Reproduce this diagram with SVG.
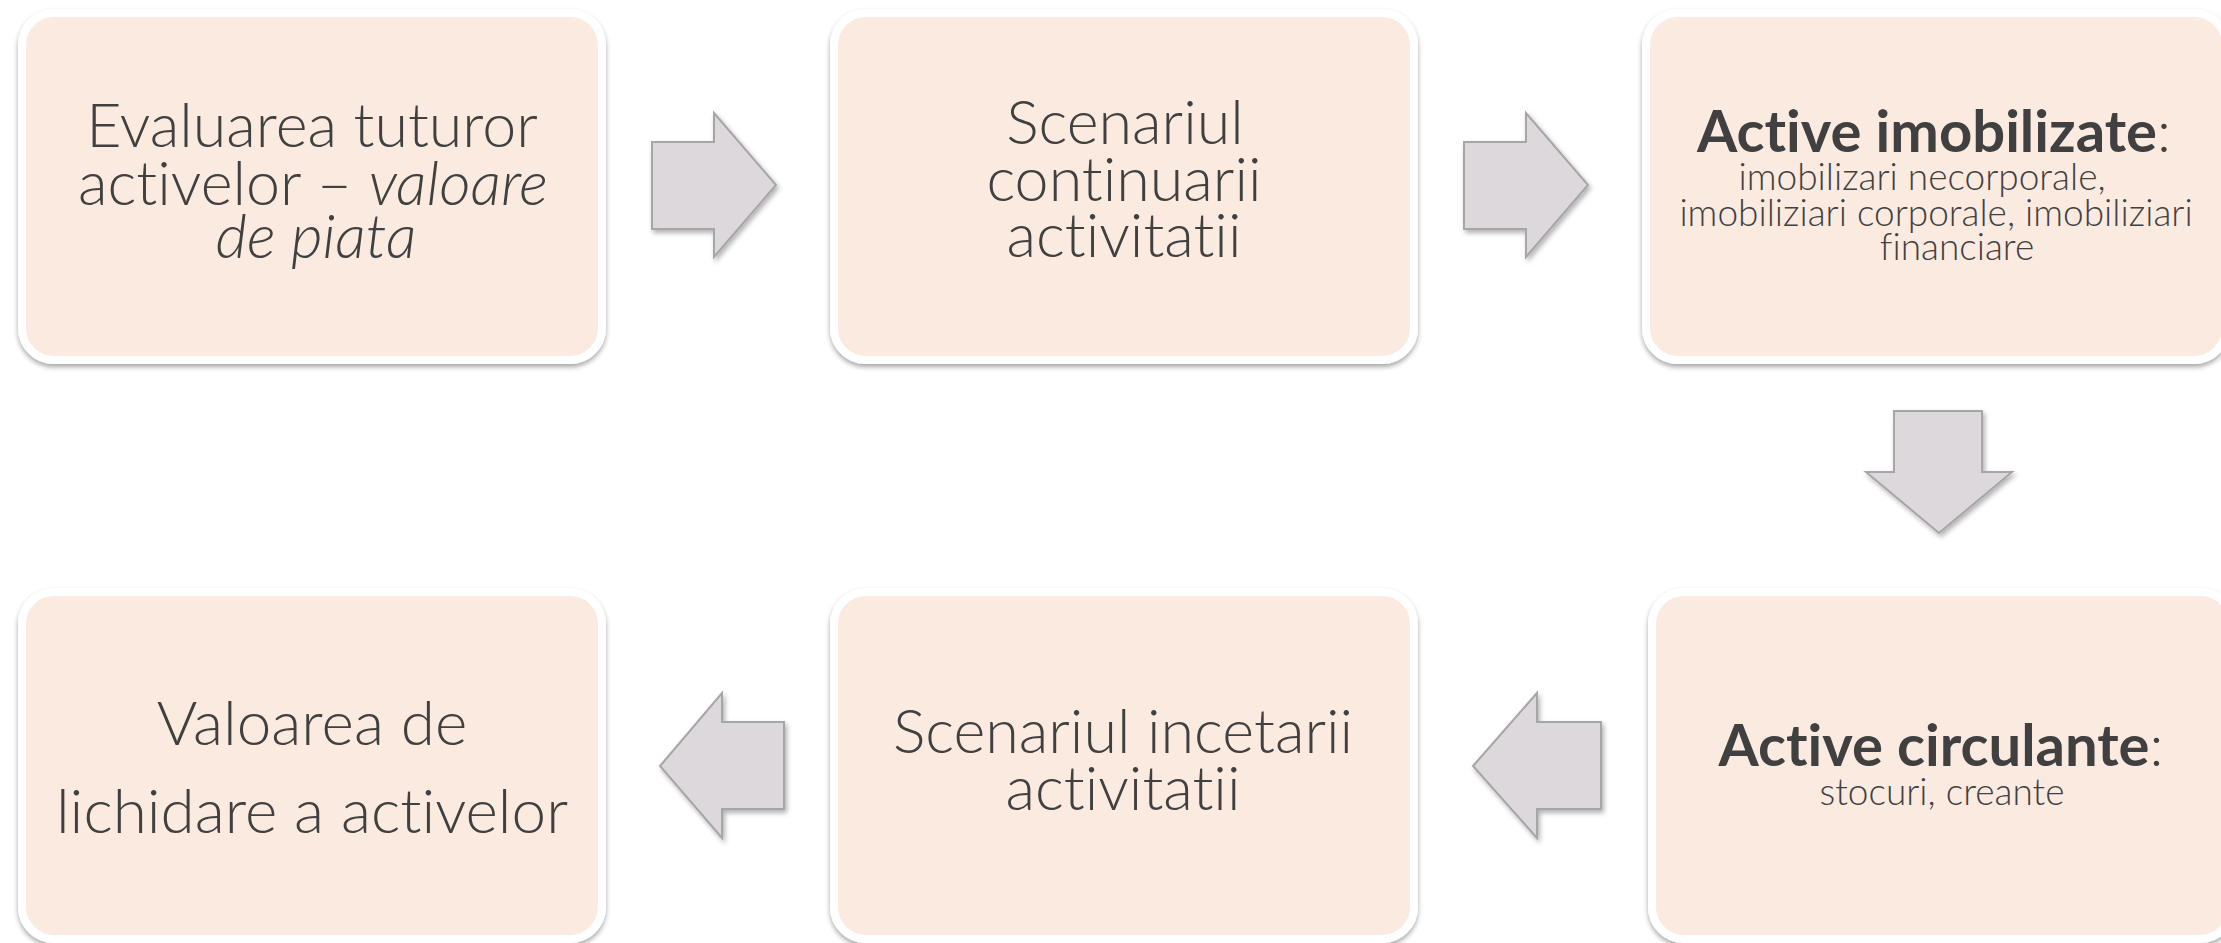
<svg xmlns="http://www.w3.org/2000/svg" width="2221" height="943" viewBox="0 0 2221 943">
<defs>
<filter id="sh" x="-10%" y="-10%" width="120%" height="125%">
<feDropShadow dx="0" dy="3" stdDeviation="2.5" flood-color="#000" flood-opacity="0.35"/>
</filter>
<filter id="ash" x="-20%" y="-20%" width="140%" height="140%">
<feDropShadow dx="2" dy="3" stdDeviation="2.5" flood-color="#000" flood-opacity="0.3"/>
</filter>
</defs>
<style>
.box{fill:#FAEAE0;stroke:#FFFFFF;stroke-width:8;filter:url(#sh)}
.arr{fill:#DDD8DC;stroke:#A6A6A6;stroke-width:2;stroke-linejoin:miter;filter:url(#ash)}
text{font-family:Lato,"Liberation Sans",sans-serif;fill:#404040;text-anchor:middle;font-variant-ligatures:none;font-feature-settings:"liga" 0,"clig" 0}
.big{font-size:61px;font-weight:300}
.big2{font-size:62px;font-weight:300}
.hd{font-size:58px;font-weight:700}
.sm{font-size:37px;font-weight:300}
.it{font-style:italic}
.reg{font-weight:300}
</style>
<rect width="2221" height="943" fill="#FFFFFF"/>
<g id="connectors">
<polygon class="arr" points="652,142 714,142 714,113 776,185 714,257 714,229 652,229"/>
<polygon class="arr" points="1464,142 1526,142 1526,113 1588,185 1526,257 1526,229 1464,229"/>
<polygon class="arr" points="1894,411 1982,411 1982,472 2012,472 1939,533 1866,472 1894,472"/>
<polygon class="arr" points="1601,722 1537,722 1537,693 1473,766 1537,838 1537,809 1601,809"/>
<polygon class="arr" points="784,722 722,722 722,693 660,766 722,838 722,809 784,809"/>
</g>
<g id="n1">
<rect class="box" x="22" y="13" width="580" height="347" rx="32"/>
<text class="big" x="312" y="147">Evaluarea tuturor</text>
<text class="big" x="313" y="205">activelor – <tspan class="it">valoare</tspan></text>
<text class="big it" x="316" y="258">de piata</text>
</g>
<g id="n2">
<rect class="box" x="834" y="13" width="580" height="347" rx="32"/>
<text class="big" x="1125" y="144">Scenariul</text>
<text class="big" x="1124" y="201">continuarii</text>
<text class="big" x="1124" y="257">activitatii</text>
</g>
<g id="n3">
<rect class="box" x="1646" y="13" width="580" height="347" rx="32"/>
<text class="hd" x="1934" y="152">Active imobilizate<tspan class="reg">:</tspan></text>
<text class="sm" x="1922" y="190">imobilizari necorporale,</text>
<text class="sm" x="1936" y="226">imobiliziari corporale, imobiliziari</text>
<text class="sm" x="1957" y="260">financiare</text>
</g>
<g id="n4">
<rect class="box" x="22" y="592" width="580" height="347" rx="32"/>
<text class="big2" x="312" y="745">Valoarea de</text>
<text class="big2" x="312" y="833">lichidare a activelor</text>
</g>
<g id="n5">
<rect class="box" x="834" y="592" width="580" height="347" rx="32"/>
<text class="big" x="1123" y="753">Scenariul incetarii</text>
<text class="big" x="1123" y="810">activitatii</text>
</g>
<g id="n6">
<rect class="box" x="1652" y="592" width="580" height="347" rx="32"/>
<text class="hd" x="1941" y="766">Active circulante<tspan class="reg">:</tspan></text>
<text class="sm" x="1942" y="805">stocuri, creante</text>
</g>
</svg>
